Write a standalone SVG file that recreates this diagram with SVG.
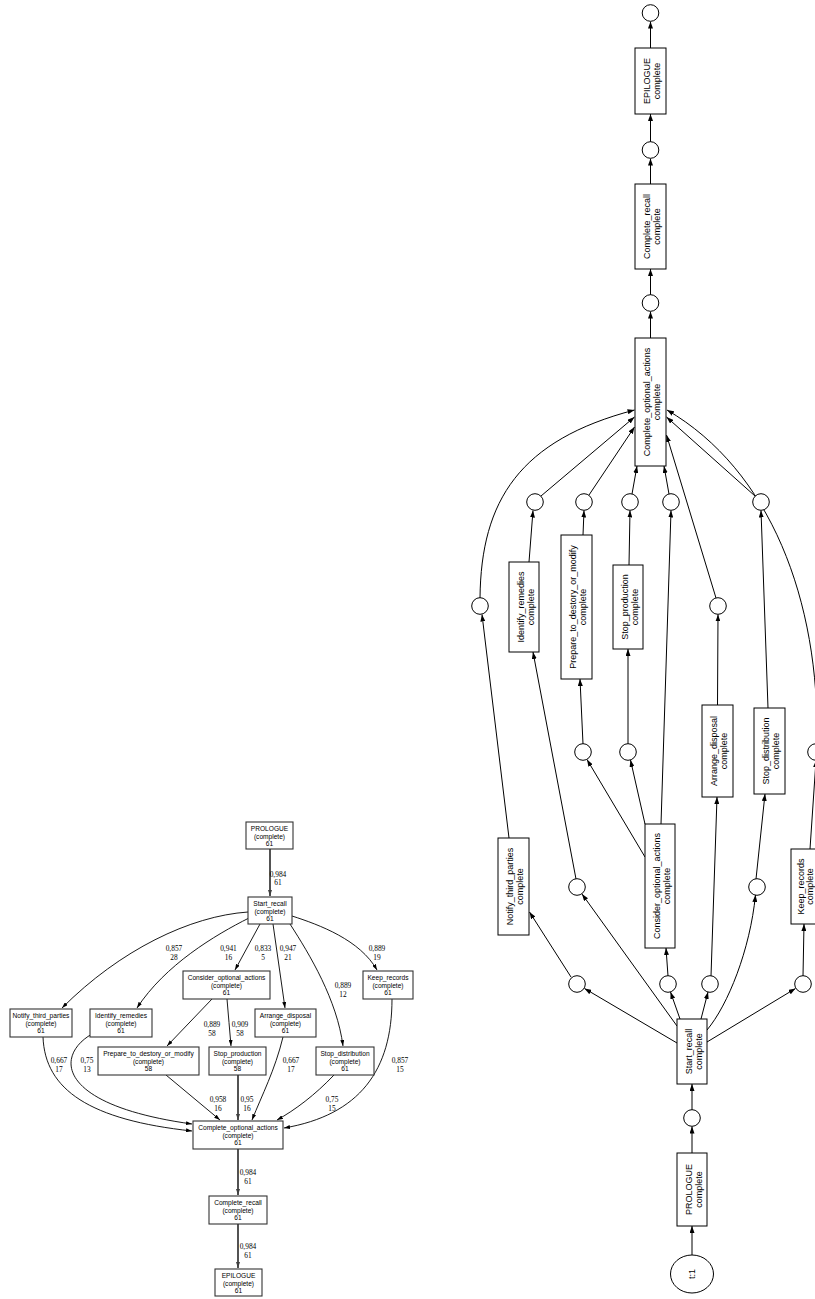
<svg xmlns="http://www.w3.org/2000/svg" width="815" height="1299" viewBox="0 0 815 1299">
<style>
.hn rect{fill:#fff;stroke:#333;stroke-width:1.1}
.hn text{font-family:"Liberation Sans",Arial,sans-serif;font-size:6.6px;text-anchor:middle;fill:#000}
.hl{font-family:"Liberation Serif","Times New Roman",serif;font-size:7.4px;text-anchor:middle;fill:#000}
.he{fill:none;stroke:#000;stroke-width:0.9}
.hs{fill:none;stroke:#404040;stroke-width:1.8}
.pt rect{fill:#fff;stroke:#000;stroke-width:1}
.pt text{font-family:"Liberation Sans",Arial,sans-serif;font-size:9px;text-anchor:middle;fill:#000}
.pp circle,.pp ellipse{fill:#fff;stroke:#000;stroke-width:1}
.pp text{font-family:"Liberation Sans",Arial,sans-serif;font-size:9px;text-anchor:middle;fill:#000}
.pa{fill:none;stroke:#000;stroke-width:1}
</style>
<defs>
<marker id="ha" viewBox="0 0 6 4" refX="6" refY="2" markerWidth="6" markerHeight="4" markerUnits="userSpaceOnUse" orient="auto"><path d="M0,0 L6,2 L0,4 z" fill="#000"/></marker>
<marker id="hb" viewBox="0 0 6 4" refX="6" refY="2" markerWidth="6" markerHeight="4" markerUnits="userSpaceOnUse" orient="auto"><path d="M0,0 L6,2 L0,4 z" fill="#404040"/></marker>
<marker id="pa" viewBox="0 0 7 5" refX="7" refY="2.5" markerWidth="7" markerHeight="5" markerUnits="userSpaceOnUse" orient="auto"><path d="M0,0 L7,2.5 L0,5 z" fill="#000"/></marker>
</defs>
<rect width="815" height="1299" fill="#fff"/>

<!-- Left: heuristics net connectors -->
<g id="hn-edges">
<path class="hs" d="M270,849 L270,896" marker-end="url(#hb)"/>
<path class="he" d="M248,912 C190,916 120,950 62,1008" marker-end="url(#ha)"/>
<path class="he" d="M249,918 C215,935 165,965 137,1008" marker-end="url(#ha)"/>
<path class="he" d="M260,924 L235,970" marker-end="url(#ha)"/>
<path class="he" d="M273,924 L285,1008" marker-end="url(#ha)"/>
<path class="he" d="M290,924 C310,955 337,1000 343,1046" marker-end="url(#ha)"/>
<path class="he" d="M292,916 C320,925 360,940 377,970" marker-end="url(#ha)"/>
<path class="he" d="M212,999 L167,1046" marker-end="url(#ha)"/>
<path class="he" d="M227,999 C228,1015 230,1030 231,1046" marker-end="url(#ha)"/>
<path class="he" d="M43,1037 C45,1090 90,1120 192,1131" marker-end="url(#ha)"/>
<path class="he" d="M92,1034 C55,1055 55,1105 192,1124" marker-end="url(#ha)"/>
<path class="he" d="M166,1075 L220,1120" marker-end="url(#ha)"/>
<path class="hs" d="M238,1075 L238,1120" marker-end="url(#hb)"/>
<path class="he" d="M283,1037 C275,1070 262,1095 252,1120" marker-end="url(#ha)"/>
<path class="he" d="M334,1075 C315,1095 295,1110 277,1120" marker-end="url(#ha)"/>
<path class="he" d="M392,999 C392,1070 360,1115 284,1128" marker-end="url(#ha)"/>
<path class="hs" d="M238,1149 L238,1195" marker-end="url(#hb)"/>
<path class="hs" d="M238,1224 L238,1268" marker-end="url(#hb)"/>
<text class="hl"><tspan x="278" y="876.5">0,984</tspan><tspan x="278" y="885">61</tspan></text>
<text class="hl"><tspan x="174" y="951">0,857</tspan><tspan x="174" y="960">28</tspan></text>
<text class="hl"><tspan x="228.5" y="951">0,941</tspan><tspan x="228.5" y="960">16</tspan></text>
<text class="hl"><tspan x="263" y="951">0,833</tspan><tspan x="263" y="960">5</tspan></text>
<text class="hl"><tspan x="288" y="951">0,947</tspan><tspan x="288" y="960">21</tspan></text>
<text class="hl"><tspan x="377" y="951">0,889</tspan><tspan x="377" y="960">19</tspan></text>
<text class="hl"><tspan x="343" y="988">0,889</tspan><tspan x="343" y="997">12</tspan></text>
<text class="hl"><tspan x="212" y="1027">0,889</tspan><tspan x="212" y="1036">58</tspan></text>
<text class="hl"><tspan x="240" y="1027">0,909</tspan><tspan x="240" y="1036">58</tspan></text>
<text class="hl"><tspan x="59" y="1063">0,667</tspan><tspan x="59" y="1072">17</tspan></text>
<text class="hl"><tspan x="87" y="1063">0,75</tspan><tspan x="87" y="1072">13</tspan></text>
<text class="hl"><tspan x="291" y="1063">0,667</tspan><tspan x="291" y="1072">17</tspan></text>
<text class="hl"><tspan x="400" y="1063">0,857</tspan><tspan x="400" y="1072">15</tspan></text>
<text class="hl"><tspan x="218" y="1102">0,958</tspan><tspan x="218" y="1111">16</tspan></text>
<text class="hl"><tspan x="247" y="1102">0,95</tspan><tspan x="247" y="1111">16</tspan></text>
<text class="hl"><tspan x="332" y="1102">0,75</tspan><tspan x="332" y="1111">15</tspan></text>
<text class="hl"><tspan x="248" y="1175">0,984</tspan><tspan x="248" y="1184">61</tspan></text>
<text class="hl"><tspan x="248" y="1249">0,984</tspan><tspan x="248" y="1258">61</tspan></text>
</g>

<!-- Left: heuristics net nodes -->
<g id="hn-prologue" class="hn"><rect x="246" y="822" width="47" height="27"/><text><tspan x="269.5" y="831">PROLOGUE</tspan><tspan x="269.5" y="838.5">(complete)</tspan><tspan x="269.5" y="846">61</tspan></text></g>
<g id="hn-start-recall" class="hn"><rect x="248" y="897" width="44" height="27"/><text><tspan x="270" y="906">Start_recall</tspan><tspan x="270" y="913.5">(complete)</tspan><tspan x="270" y="921">61</tspan></text></g>
<g id="hn-consider" class="hn"><rect x="183" y="971" width="87" height="28"/><text><tspan x="226.5" y="980">Consider_optional_actions</tspan><tspan x="226.5" y="987.5">(complete)</tspan><tspan x="226.5" y="995">61</tspan></text></g>
<g id="hn-keep" class="hn"><rect x="363" y="971" width="50" height="28"/><text><tspan x="388" y="980">Keep_records</tspan><tspan x="388" y="987.5">(complete)</tspan><tspan x="388" y="995">61</tspan></text></g>
<g id="hn-notify" class="hn"><rect x="10" y="1009" width="62" height="28"/><text><tspan x="41" y="1018">Notify_third_parties</tspan><tspan x="41" y="1025.5">(complete)</tspan><tspan x="41" y="1033">61</tspan></text></g>
<g id="hn-identify" class="hn"><rect x="90" y="1009" width="62" height="28"/><text><tspan x="121" y="1018">Identify_remedies</tspan><tspan x="121" y="1025.5">(complete)</tspan><tspan x="121" y="1033">61</tspan></text></g>
<g id="hn-arrange" class="hn"><rect x="255" y="1009" width="61" height="28"/><text><tspan x="285.5" y="1018">Arrange_disposal</tspan><tspan x="285.5" y="1025.5">(complete)</tspan><tspan x="285.5" y="1033">61</tspan></text></g>
<g id="hn-prepare" class="hn"><rect x="98" y="1047" width="101" height="28"/><text><tspan x="148.5" y="1056">Prepare_to_destory_or_modify</tspan><tspan x="148.5" y="1063.5">(complete)</tspan><tspan x="148.5" y="1071">58</tspan></text></g>
<g id="hn-stop-production" class="hn"><rect x="209" y="1047" width="57" height="28"/><text><tspan x="237.5" y="1056">Stop_production</tspan><tspan x="237.5" y="1063.5">(complete)</tspan><tspan x="237.5" y="1071">58</tspan></text></g>
<g id="hn-stop-distribution" class="hn"><rect x="316" y="1047" width="58" height="28"/><text><tspan x="345" y="1056">Stop_distribution</tspan><tspan x="345" y="1063.5">(complete)</tspan><tspan x="345" y="1071">61</tspan></text></g>
<g id="hn-complete-optional" class="hn"><rect x="193" y="1121" width="90" height="28"/><text><tspan x="238" y="1130">Complete_optional_actions</tspan><tspan x="238" y="1137.5">(complete)</tspan><tspan x="238" y="1145">61</tspan></text></g>
<g id="hn-complete-recall" class="hn"><rect x="209" y="1196" width="58" height="28"/><text><tspan x="238" y="1205">Complete_recall</tspan><tspan x="238" y="1212.5">(complete)</tspan><tspan x="238" y="1220">61</tspan></text></g>
<g id="hn-epilogue" class="hn"><rect x="215" y="1269" width="47" height="27"/><text><tspan x="238.5" y="1278">EPILOGUE</tspan><tspan x="238.5" y="1285.5">(complete)</tspan><tspan x="238.5" y="1293">61</tspan></text></g>

<!-- Right: Petri net arcs -->
<g id="pn-arcs">
<path class="pa" d="M650.5,48 L650.5,21.5" marker-end="url(#pa)"/>
<path class="pa" d="M650.5,142 L650.5,114" marker-end="url(#pa)"/>
<path class="pa" d="M650.5,184 L650.5,158.5" marker-end="url(#pa)"/>
<path class="pa" d="M650.5,295 L650.5,269" marker-end="url(#pa)"/>
<path class="pa" d="M650.5,338 L650.5,311.5" marker-end="url(#pa)"/>
<path class="pa" d="M692,1255 L692,1226" marker-end="url(#pa)"/>
<path class="pa" d="M692,1153 L692,1126.5" marker-end="url(#pa)"/>
<path class="pa" d="M692,1110 L692,1084" marker-end="url(#pa)"/>
<path class="pa" d="M677,1043 L584.5,988.5" marker-end="url(#pa)"/>
<path class="pa" d="M680,1019 L670.5,992" marker-end="url(#pa)"/>
<path class="pa" d="M701,1019 L708,992" marker-end="url(#pa)"/>
<path class="pa" d="M707,1042 L795.5,988.5" marker-end="url(#pa)"/>
<path class="pa" d="M677,1026 L582,894" marker-end="url(#pa)"/>
<path class="pa" d="M707,1030 C728,1005 750,950 755.5,895" marker-end="url(#pa)"/>
<path class="pa" d="M571,977 L529.5,912" marker-end="url(#pa)"/>
<path class="pa" d="M509,838 L482,614.5" marker-end="url(#pa)"/>
<path class="pa" d="M480,598 C481,500 520,440 634.5,410" marker-end="url(#pa)"/>
<path class="pa" d="M576,879 L533,652" marker-end="url(#pa)"/>
<path class="pa" d="M529,562 L533,510.5" marker-end="url(#pa)"/>
<path class="pa" d="M541,496 L634.5,417" marker-end="url(#pa)"/>
<path class="pa" d="M645,857 L587,759.5" marker-end="url(#pa)"/>
<path class="pa" d="M645,824 L630.5,760" marker-end="url(#pa)"/>
<path class="pa" d="M661,824 L671,510.5" marker-end="url(#pa)"/>
<path class="pa" d="M583,744 L580,679" marker-end="url(#pa)"/>
<path class="pa" d="M628,744 L628,649" marker-end="url(#pa)"/>
<path class="pa" d="M583,535 L584,510.5" marker-end="url(#pa)"/>
<path class="pa" d="M589,495 L634.5,427" marker-end="url(#pa)"/>
<path class="pa" d="M629,565 L630,510.5" marker-end="url(#pa)"/>
<path class="pa" d="M632,494 L637,466" marker-end="url(#pa)"/>
<path class="pa" d="M669,494 L664,466" marker-end="url(#pa)"/>
<path class="pa" d="M668,976 L666,948" marker-end="url(#pa)"/>
<path class="pa" d="M711,976 L717,797" marker-end="url(#pa)"/>
<path class="pa" d="M717.5,705 L718,614.5" marker-end="url(#pa)"/>
<path class="pa" d="M716,598 L666.5,435" marker-end="url(#pa)"/>
<path class="pa" d="M756,879 L765,794" marker-end="url(#pa)"/>
<path class="pa" d="M768,708 L761,510.5" marker-end="url(#pa)"/>
<path class="pa" d="M755,496 L666.5,417" marker-end="url(#pa)"/>
<path class="pa" d="M803,976 L804,924" marker-end="url(#pa)"/>
<path class="pa" d="M810,849 L816,760.5" marker-end="url(#pa)"/>
<path class="pa" d="M817,744 C820,600 770,470 667,410" marker-end="url(#pa)"/>
</g>

<!-- Right: Petri net places -->
<g id="pn-places" class="pp">
<circle id="p-end" cx="650.5" cy="13" r="8.3"/>
<circle id="p-epi" cx="650.5" cy="150" r="8.3"/>
<circle id="p-cr" cx="650.5" cy="303" r="8.3"/>
<circle id="p-ir-out" cx="535" cy="502" r="8.3"/>
<circle id="p-pr-out" cx="584" cy="502" r="8.3"/>
<circle id="p-sp-out" cx="630" cy="502" r="8.3"/>
<circle id="p-co-out" cx="671" cy="502" r="8.3"/>
<circle id="p-sd-out" cx="761" cy="502" r="8.3"/>
<circle id="p-nt-out" cx="480" cy="606" r="8.3"/>
<circle id="p-ad-out" cx="718" cy="606" r="8.3"/>
<circle id="p-pr-in" cx="583" cy="752" r="8.3"/>
<circle id="p-sp-in" cx="628" cy="752" r="8.3"/>
<circle id="p-kr-out" cx="816" cy="752" r="8.3"/>
<circle id="p-ir-in" cx="577" cy="887" r="8.3"/>
<circle id="p-sd-in" cx="757" cy="887" r="8.3"/>
<circle id="p-nt-in" cx="577" cy="984" r="8.3"/>
<circle id="p-co-in" cx="668" cy="984" r="8.3"/>
<circle id="p-ad-in" cx="710" cy="984" r="8.3"/>
<circle id="p-kr-in" cx="803" cy="984" r="8.3"/>
<circle id="p-sr-in" cx="692" cy="1118" r="8.3"/>
<g id="p-start"><ellipse cx="692" cy="1274" rx="21.5" ry="19"/><text transform="translate(692,1274) rotate(-90)" y="3">t:1</text></g>
</g>

<!-- Right: Petri net transitions -->
<g id="t-epilogue" class="pt"><rect x="635" y="48" width="31" height="66"/><text transform="translate(650.5,81) rotate(-90)"><tspan x="0" y="-0.5">EPILOGUE</tspan><tspan x="0" y="9.5">complete</tspan></text></g>
<g id="t-complete-recall" class="pt"><rect x="635" y="184" width="31" height="85"/><text transform="translate(650.5,226.5) rotate(-90)"><tspan x="0" y="-0.5">Complete_recall</tspan><tspan x="0" y="9.5">complete</tspan></text></g>
<g id="t-complete-optional" class="pt"><rect x="635" y="338" width="31" height="128"/><text transform="translate(650.5,402) rotate(-90)"><tspan x="0" y="-0.5">Complete_optional_actions</tspan><tspan x="0" y="9.5">complete</tspan></text></g>
<g id="t-identify" class="pt"><rect x="509" y="562" width="30" height="90"/><text transform="translate(524,607) rotate(-90)"><tspan x="0" y="-0.5">Identify_remedies</tspan><tspan x="0" y="9.5">complete</tspan></text></g>
<g id="t-prepare" class="pt"><rect x="561" y="535" width="31" height="144"/><text transform="translate(576.5,607) rotate(-90)"><tspan x="0" y="-0.5">Prepare_to_destory_or_modify</tspan><tspan x="0" y="9.5">complete</tspan></text></g>
<g id="t-stop-production" class="pt"><rect x="613" y="565" width="30" height="84"/><text transform="translate(628,607) rotate(-90)"><tspan x="0" y="-0.5">Stop_production</tspan><tspan x="0" y="9.5">complete</tspan></text></g>
<g id="t-arrange" class="pt"><rect x="702" y="705" width="31" height="92"/><text transform="translate(717.5,751) rotate(-90)"><tspan x="0" y="-0.5">Arrange_disposal</tspan><tspan x="0" y="9.5">complete</tspan></text></g>
<g id="t-stop-distribution" class="pt"><rect x="754" y="708" width="31" height="86"/><text transform="translate(769.5,751) rotate(-90)"><tspan x="0" y="-0.5">Stop_distribution</tspan><tspan x="0" y="9.5">complete</tspan></text></g>
<g id="t-notify" class="pt"><rect x="498" y="838" width="31" height="97"/><text transform="translate(513.5,886.5) rotate(-90)"><tspan x="0" y="-0.5">Notify_third_parties</tspan><tspan x="0" y="9.5">complete</tspan></text></g>
<g id="t-consider" class="pt"><rect x="645" y="824" width="30" height="124"/><text transform="translate(660,886) rotate(-90)"><tspan x="0" y="-0.5">Consider_optional_actions</tspan><tspan x="0" y="9.5">complete</tspan></text></g>
<g id="t-keep" class="pt"><rect x="791" y="849" width="31" height="75"/><text transform="translate(806.5,886.5) rotate(-90)"><tspan x="0" y="-3">Keep_records</tspan><tspan x="0" y="6">complete</tspan></text></g>
<g id="t-start-recall" class="pt"><rect x="677" y="1019" width="30" height="65"/><text transform="translate(692,1051.5) rotate(-90)"><tspan x="0" y="-0.5">Start_recall</tspan><tspan x="0" y="9.5">complete</tspan></text></g>
<g id="t-prologue" class="pt"><rect x="677" y="1153" width="30" height="73"/><text transform="translate(692,1189.5) rotate(-90)"><tspan x="0" y="-0.5">PROLOGUE</tspan><tspan x="0" y="9.5">complete</tspan></text></g>
</svg>
